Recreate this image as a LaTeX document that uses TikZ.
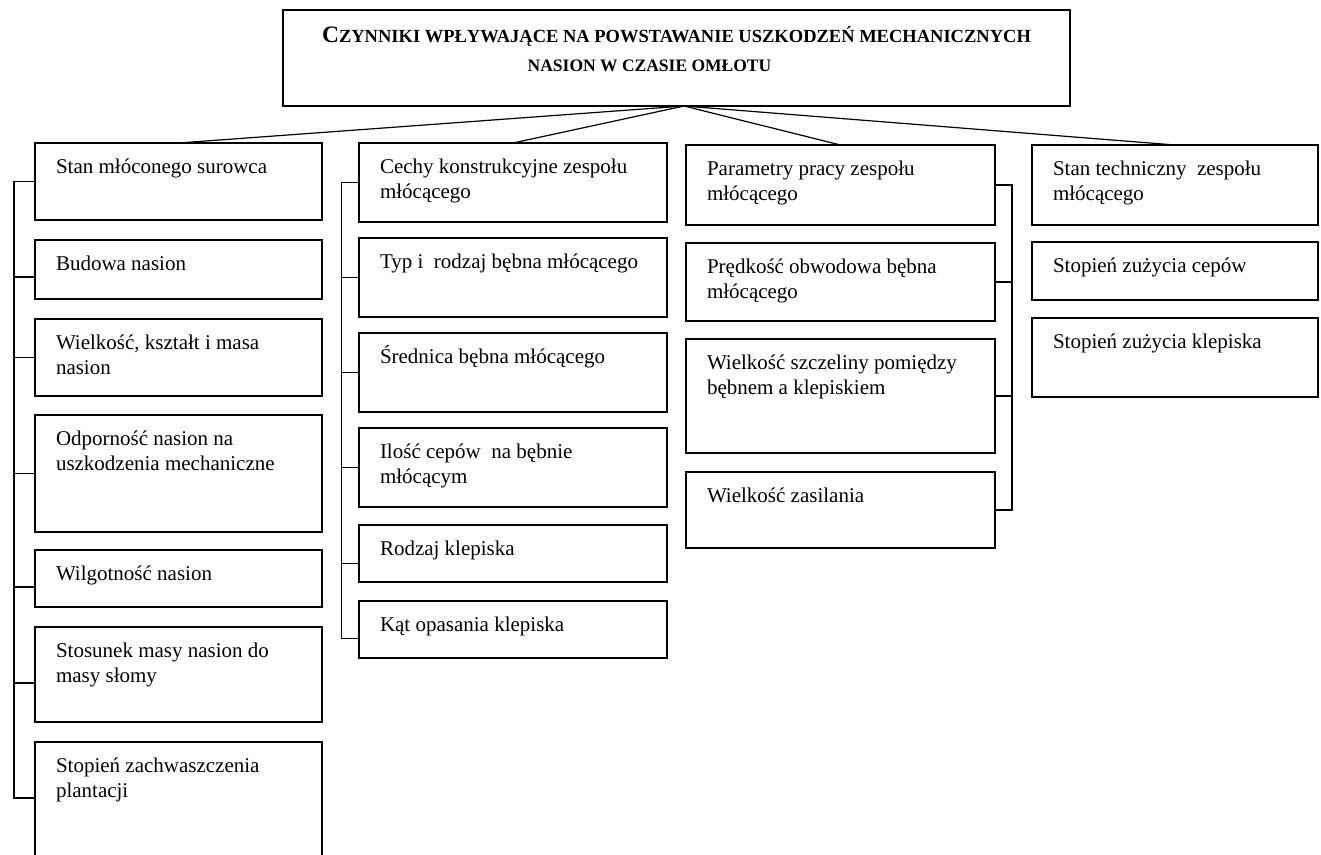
\documentclass[tikz,border=0pt]{standalone}
\usepackage{fontspec}
\setmainfont{Liberation Serif}
\usetikzlibrary{positioning}

\begin{document}
\begin{tikzpicture}[
    x=1pt, y=-1pt,
    box/.style 2 args={draw, line width=1.6pt, anchor=north west, inner xsep=21pt, inner ysep=0pt,
                outer sep=0pt, font=\fontsize{21}{25}\selectfont,
                execute at begin node={\begin{minipage}[t][#2pt][t]{\dimexpr#1pt-42pt\relax}\rule{0pt}{30.5pt}},
                execute at end node={\end{minipage}}},
    head/.style={line width=2.6pt},
    link/.style={line width=1.2pt},
    bus/.style={line width=1pt}
]
    \useasboundingbox (0,0) rectangle (1321,854);
    \clip (0,0) rectangle (1321,854);

    % Title
    \node[draw, line width=1.6pt, anchor=north west, inner sep=0pt, outer sep=0pt] (top) at (283,10) {
        \begin{minipage}[t][96pt][t]{787pt}\centering\bfseries
        \rule{0pt}{32pt}\fontsize{23.5}{29}\selectfont C\fontsize{18.5}{29}\selectfont ZYNNIKI WPŁYWAJĄCE NA POWSTAWANIE USZKODZEŃ MECHANICZNYCH\\
        \fontsize{17.5}{29}\selectfont\hspace*{-54pt}NASION W CZASIE OMŁOTU
        \end{minipage}
    };
    \coordinate (hub) at ([xshift=7.5pt]top.south);

    % Column 1
    \node[box={287}{77}, head] (c1a) at (35,143) {Stan młóconego surowca};
    \node[box={287}{59}] (c1b) at (35,240) {Budowa nasion};
    \node[box={287}{77}] (c1c) at (35,319) {Wielkość, kształt i masa\\ nasion};
    \node[box={287}{117}] (c1d) at (35,415) {Odporność nasion na\\ uszkodzenia mechaniczne};
    \node[box={287}{57}] (c1e) at (35,550) {Wilgotność nasion};
    \node[box={287}{95}] (c1f) at (35,627) {Stosunek masy nasion do\\ masy słomy};
    \node[box={287}{125}] (c1g) at (35,742) {Stopień zachwaszczenia\\ plantacji};

    % Column 2
    \node[box={308}{79}, head] (c2a) at (359,143) {Cechy konstrukcyjne zespołu\\ młócącego};
    \node[box={308}{79}] (c2b) at (359,238) {Typ i~ rodzaj bębna młócącego};
    \node[box={308}{79}] (c2c) at (359,333) {Średnica bębna młócącego};
    \node[box={308}{79}] (c2d) at (359,428) {Ilość cepów~ na bębnie\\ młócącym};
    \node[box={308}{57}] (c2e) at (359,525) {Rodzaj klepiska};
    \node[box={308}{57}] (c2f) at (359,601) {Kąt opasania klepiska};

    % Column 3
    \node[box={309}{80}, head] (c3a) at (686,145) {Parametry pracy zespołu\\ młócącego};
    \node[box={309}{78}] (c3b) at (686,243) {Prędkość obwodowa bębna\\ młócącego};
    \node[box={309}{114}] (c3c) at (686,339) {Wielkość szczeliny pomiędzy\\ bębnem a klepiskiem};
    \node[box={309}{76}] (c3d) at (686,472) {Wielkość zasilania};

    % Column 4
    \node[box={286}{80}, head] (c4a) at (1032,145) {Stan techniczny~ zespołu\\ młócącego};
    \node[box={286}{58}] (c4b) at (1032,242) {Stopień zużycia cepów};
    \node[box={286}{79}] (c4c) at (1032,318) {Stopień zużycia klepiska};

    % Links from the title
    \foreach \n in {c1a,c2a,c3a,c4a}
        \draw[link] (hub) -- (\n.north);

    % Brackets
    \draw[bus, line width=1.8pt] (c1a.west) -- ++(-21,0) |- ([yshift=6.5pt]c1g.west);
    \foreach \n/\d in {c1b/-7.5,c1c/0,c1d/0,c1e/-8.5,c1f/-8.5}
        \draw[bus, line width=1.8pt] ([yshift=\d pt]\n.west) -- ++(-21,0);
    \draw[bus] (c2a.west) -- ++(-18,0) |- ([yshift=-8.5pt]c2f.west);
    \foreach \n/\d in {c2b/0,c2c/0,c2d/0,c2e/-9.5}
        \draw[bus] ([yshift=\d pt]\n.west) -- ++(-18,0);
    \draw[bus, line width=1.2pt] (c3a.east) -- ++(17,0) |- (c3d.east);
    \foreach \n in {c3b,c3c}
        \draw[bus, line width=1.2pt] (\n.east) -- ++(17,0);
\end{tikzpicture}
\end{document}
